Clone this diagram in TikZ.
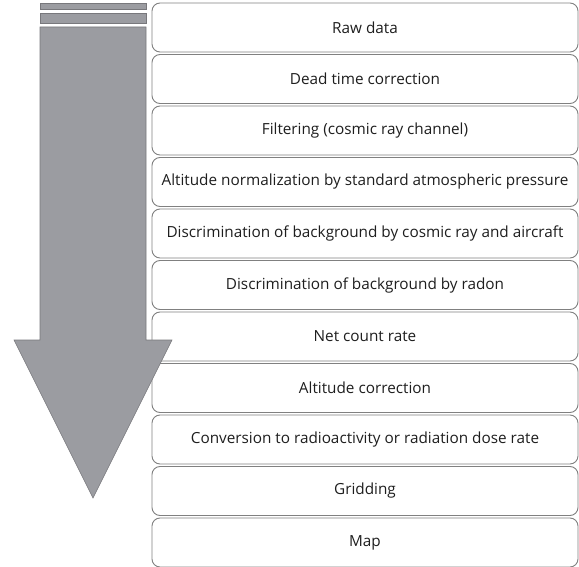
\documentclass[tikz,border=0pt]{standalone}
\usepackage{fontspec}
\setmainfont{Open Sans}
\usetikzlibrary{positioning}
\definecolor{FlowGray}{RGB}{155, 156, 161}
\definecolor{FlowEdge}{RGB}{120, 120, 124}
\definecolor{BoxEdge}{RGB}{128, 128, 128}
\definecolor{TextDark}{RGB}{30, 30, 30}

\begin{document}
\begin{tikzpicture}[x=1pt, y=1pt,
    stepbox/.style={draw=BoxEdge, fill=white, rounded corners=8pt, line width=0.9pt,
                    minimum width=426pt, minimum height=49pt, inner sep=0pt,
                    font=\fontsize{15.3}{17}\selectfont, text=TextDark},
    flowbar/.style={fill=FlowGray, draw=FlowEdge, line width=0.6pt}]
    \useasboundingbox (0, 0) rectangle (579, -567);

    % Processing steps, top to bottom
    \node[stepbox] (raw) at (365, -27.5) {Raw data};
    \node[stepbox, below=1.6pt of raw] (dead) {Dead time correction};
    \node[stepbox, below=1.6pt of dead] (filter) {Filtering (cosmic ray channel)};
    \node[stepbox, below=1.6pt of filter] (altnorm) {Altitude normalization by standard atmospheric pressure};
    \node[stepbox, below=1.6pt of altnorm] (cosmic) {Discrimination of background by cosmic ray and aircraft};
    \node[stepbox, below=1.6pt of cosmic] (radon) {Discrimination of background by radon};
    \node[stepbox, below=1.6pt of radon] (net) {Net count rate};
    \node[stepbox, below=1.6pt of net] (altcorr) {Altitude correction};
    \node[stepbox, below=1.6pt of altcorr] (dose) {Conversion to radioactivity or radiation dose rate};
    \node[stepbox, below=1.6pt of dose] (grid) {Gridding};
    \node[stepbox, below=1.6pt of grid] (map) {Map};

    % Big downward arrow with two thin bars on top
    \draw[flowbar] (40, -3) rectangle (146, -9);
    \draw[flowbar] (40, -13) rectangle (146, -23);
    \draw[flowbar] (40, -27) -- (146, -27) -- (146, -340) -- (172, -340)
        -- (93, -498) -- (14, -340) -- (40, -340) -- cycle;
\end{tikzpicture}
\end{document}
